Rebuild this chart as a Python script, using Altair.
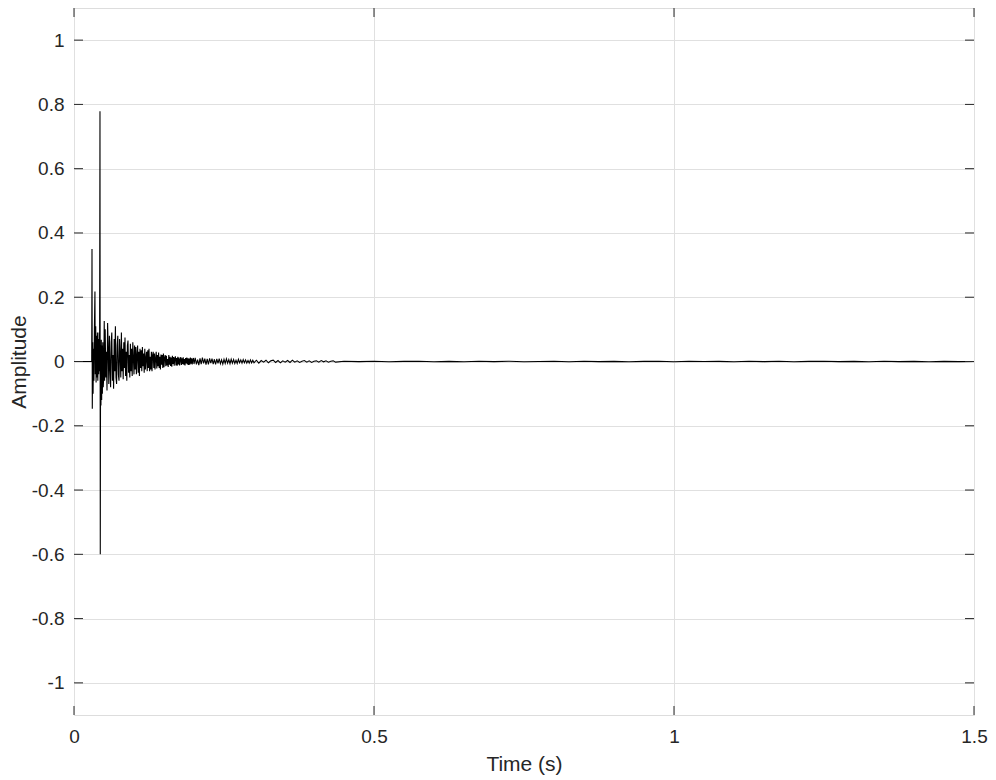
import altair as alt
import numpy as np
import pandas as pd

# ---- data (time in s, amplitude) ----
onset_t = [0.0, 0.0295, 0.0300, 0.0305, 0.0312, 0.0318, 0.0325, 0.0332, 0.0340, 0.0349,
           0.0355, 0.0362, 0.0368, 0.0375, 0.0382, 0.0390, 0.0397, 0.0404, 0.0411, 0.0418,
           0.0426, 0.0433, 0.0438, 0.0443, 0.0449, 0.0455, 0.0461, 0.0467, 0.0473, 0.0480,
           0.0487, 0.0495, 0.0504, 0.0510]
onset_v = [0.0, 0.0, 0.35, -0.147, 0.06, -0.10, 0.04, -0.06, 0.10, 0.218,
           -0.04, 0.11, -0.065, 0.08, -0.05, 0.09, -0.06, 0.07, -0.04, 0.09,
           -0.03, 0.779, -0.600, 0.05, -0.137, 0.068, -0.12, 0.05, -0.10, 0.06,
           -0.08, -0.05, 0.126, -0.06]

decay_start, decay_step = 0.052, 0.001
decay_v = [
    0.10, -0.05, 0.03, -0.09, 0.12, 0.04, -0.07, 0.08, -0.02, -0.08,
    0.06, 0.09, -0.06, 0.02, -0.085, 0.07, -0.03, 0.11, -0.05, -0.07,
    0.05, 0.08, -0.04, -0.06, 0.07, 0.02, -0.05, 0.09, -0.03, 0.04,
    -0.055, 0.06, -0.02, 0.075, -0.045, 0.03, -0.06, 0.05, 0.065, -0.035,
    0.02, -0.05, 0.055, -0.03, 0.04, -0.045, 0.06, 0.01, -0.04, 0.05,
    -0.025, 0.045, -0.04, 0.02, 0.05, -0.035, 0.03, -0.045, 0.04, -0.02,
    0.035, -0.03, 0.045, -0.015, 0.025, -0.035, 0.04, -0.025, 0.01, 0.03,
    -0.03, 0.035, -0.02, 0.04, -0.03, 0.015, -0.025, 0.03, -0.03, 0.02,
    0.03, -0.02, 0.025, -0.025, 0.01, 0.03, -0.022, 0.02, -0.015, 0.028,
    -0.02, 0.015, -0.025, 0.022, -0.01, 0.02, -0.02, 0.025, -0.018, 0.012,
    0.02, -0.015, 0.018, -0.012, 0.008, -0.017, 0.02, -0.01, 0.015, -0.014,
    0.012, -0.016, 0.018, -0.008, 0.014, -0.013, 0.01, 0.016, -0.012, 0.011,
    -0.013, 0.015, -0.009, 0.012, -0.012, 0.006, 0.014, -0.011, 0.01, -0.008,
    0.013, -0.01, 0.008, -0.012, 0.011, -0.006, 0.012, -0.009, 0.01, -0.011,
    0.009, -0.01, 0.012, -0.007, 0.01, -0.009, 0.006, 0.011, -0.008,
]

mid_start, mid_step = 0.202, 0.002
mid_v = [
    0.011, -0.009, 0.006, -0.011, 0.01, -0.008, 0.012, -0.006, 0.009, -0.01,
    0.008, -0.009, 0.01, -0.005, 0.009, -0.008, 0.007, -0.009, 0.008, -0.006,
    0.009, -0.007, 0.005, -0.008, 0.007, -0.006, 0.008, -0.005, 0.006, -0.007,
    0.007, -0.005, 0.006, -0.006, 0.004, -0.006, 0.007, -0.004, 0.005, -0.005,
    0.006, -0.004, 0.005, -0.005, 0.003, -0.005, 0.005, -0.004, 0.004, -0.004,
]

late_start, late_step = 0.304, 0.004
late_v = [
    0.004, -0.005, 0.003, -0.002, 0.004, -0.004, 0.002, 0.004, -0.003, 0.003,
    -0.004, 0.002, -0.002, 0.003, -0.003, 0.004, -0.002, 0.002, -0.003, 0.001,
    0.003, -0.002, 0.002, -0.003, 0.001, 0.002, -0.002, 0.003, -0.001, 0.002,
    -0.002, 0.001, 0.002, -0.002,
]

tail_start, tail_step = 0.45, 0.025
tail_v = [
    0.001, -0.0005, 0.0008, -0.001, 0.0003, 0.0009, -0.0007, 0.0004, -0.001, 0.0006,
    -0.0003, 0.0008, -0.0008, 0.0002, 0.0007, -0.0006, 0.0009, -0.0004, 0.0005, -0.0009,
    0.0003, 0.0006, -0.0007, 0.0008, -0.0002, 0.0005, -0.0008, 0.0007, -0.0003, 0.0006,
    -0.0006, 0.0004, 0.0008, -0.0005, 0.0003, -0.0007, 0.0006, -0.0004, 0.0005, -0.0006,
    0.0004, -0.0003, 0.0,
]

y_ticks = [-1, -0.8, -0.6, -0.4, -0.2, 0, 0.2, 0.4, 0.6, 0.8, 1]
x_ticks = [0, 0.5, 1, 1.5]

# ---- assemble table ----
def seg(start, step, vals):
    return [start + i * step for i in range(len(vals))], list(vals)

t_all, v_all = list(onset_t), list(onset_v)
for s, st, vals in [(decay_start, decay_step, decay_v),
                    (mid_start, mid_step, mid_v),
                    (late_start, late_step, late_v),
                    (tail_start, tail_step, tail_v)]:
    tt, vv = seg(s, st, vals)
    t_all += tt
    v_all += vv
sig = pd.DataFrame({"t": t_all, "v": v_all})
ytick_df = pd.DataFrame({"v": y_ticks})
xtick_df = pd.DataFrame({"t": x_ticks})

W, H = 900, 707
FONT = "Liberation Sans"
TXT = "#262626"
TL = 9

X = alt.X("t:Q",
          scale=alt.Scale(domain=[0, 1.5], nice=False, zero=False),
          axis=alt.Axis(values=x_ticks, title="Time (s)", ticks=False, domain=False,
                        labelPadding=12, labelFontSize=19, labelColor=TXT, labelFont=FONT,
                        labelFlush=False,
                        labelExpr="toString(datum.value)",
                        titleFontSize=21, titleFont=FONT, titleColor=TXT,
                        titleFontWeight="normal", titleY=55, titleBaseline="alphabetic",
                        grid=True, gridColor="#E0E0E0", gridWidth=1))
Y = alt.Y("v:Q",
          scale=alt.Scale(domain=[-1.1, 1.1], nice=False, zero=False),
          axis=alt.Axis(values=y_ticks, title="Amplitude", ticks=False, domain=False,
                        labelPadding=10, labelFontSize=19, labelColor=TXT, labelFont=FONT,
                        labelFlush=False,
                        labelExpr="toString(datum.value)",
                        titleFontSize=21, titleFont=FONT, titleColor=TXT,
                        titleFontWeight="normal", titleX=-49, titleY=H / 2,
                        titleBaseline="alphabetic", titleAngle=270,
                        grid=True, gridColor="#E0E0E0", gridWidth=1))

line = alt.Chart(sig).mark_line(color="black", strokeWidth=1.1, clip=True).encode(x=X, y=Y)

left_ticks = alt.Chart(ytick_df).mark_rule(color=TXT, strokeWidth=1).encode(
    y=Y, x=alt.value(0), x2=alt.value(TL))
right_ticks = alt.Chart(ytick_df).mark_rule(color=TXT, strokeWidth=1).encode(
    y=Y, x=alt.value(W - TL), x2=alt.value(W))
bottom_ticks = alt.Chart(xtick_df).mark_rule(color=TXT, strokeWidth=1).encode(
    x=X, y=alt.value(H - TL), y2=alt.value(H))
top_ticks = alt.Chart(xtick_df).mark_rule(color=TXT, strokeWidth=1).encode(
    x=X, y=alt.value(0), y2=alt.value(TL))

chart = alt.layer(line, left_ticks, right_ticks, bottom_ticks, top_ticks).properties(
    width=W, height=H,
    autosize=alt.AutoSizeParams(type="none"),
    padding={"left": 66, "top": 0, "right": 14, "bottom": 60},
).configure_view(stroke=TXT, strokeWidth=1).configure(background="white")

chart.save("out.html", embed_options={"renderer": "svg", "actions": False})
